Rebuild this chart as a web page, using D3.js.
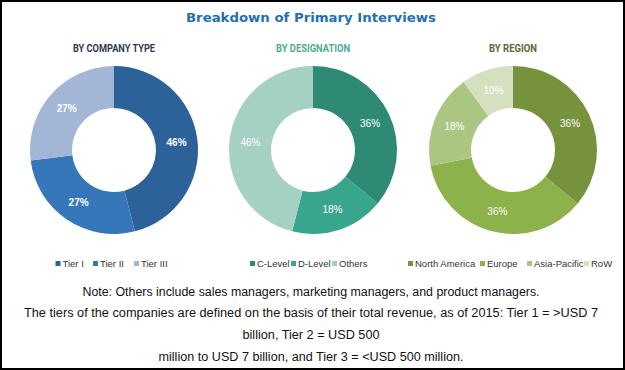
<!DOCTYPE html>
<html><head><meta charset="utf-8">
<script src="https://cdn.jsdelivr.net/npm/d3@7/dist/d3.min.js"></script>
<style>body{margin:0;background:#fff}svg{display:block}</style>
</head><body><svg id="c" width="625" height="370"></svg>
<script>
const companyLabels = ["Tier I", "Tier II", "Tier III"];
const companyValues = [46, 27, 27];
const designationLabels = ["C-Level", "D-Level", "Others"];
const designationValues = [36, 18, 46];
const regionLabels = ["North America", "Europe", "Asia-Pacific", "RoW"];
const regionValues = [36, 36, 18, 10];
const chartTitles = ["BY COMPANY TYPE", "BY DESIGNATION", "BY REGION"];
const noteLines = [
  "Note: Others include sales managers, marketing managers, and product managers.",
  "The tiers of the companies are defined on the basis of their total revenue, as of 2015: Tier 1 = >USD 7",
  "billion, Tier 2 = USD 500",
  "million to USD 7 billion, and Tier 3 = <USD 500 million."
];

const svg = d3.select("#c");
svg.append("rect").attr("x",1).attr("y",1).attr("width",623).attr("height",368)
  .attr("fill","#fff").attr("stroke","#000").attr("stroke-width",2);

svg.append("text").attr("x",311).attr("y",22).attr("text-anchor","middle")
  .attr("font-family","DejaVu Sans, Verdana, sans-serif").attr("font-weight","bold")
  .attr("font-size",13).attr("fill","#1f6fb8").attr("textLength",250).attr("lengthAdjust","spacingAndGlyphs")
  .text("Breakdown of Primary Interviews");

const charts = [
  {cx:114, labels:companyLabels, values:companyValues, title:chartTitles[0], titleColor:"#2e3b4e", titleW:82,
   colors:["#2d6199","#3677ba","#a3b6d6"], bold:true,
   legendX:[55.5,93,134]},
  {cx:313, labels:designationLabels, values:designationValues, title:chartTitles[1], titleColor:"#4aab94", titleW:74,
   colors:["#2e8a75","#38a68c","#a5d0c4"], bold:false,
   legendX:[250,291,332]},
  {cx:513, labels:regionLabels, values:regionValues, title:chartTitles[2], titleColor:"#5b6a36", titleW:48,
   colors:["#77923d","#8db24b","#abc680","#d4e0c0"], bold:false,
   legendX:[408,480,527,584]}
];

const cy = 150;
const arc = d3.arc().innerRadius(42).outerRadius(84);
const pie = d3.pie().sort(null).value(d=>d);

charts.forEach(ch=>{
  svg.append("text").attr("x",ch.cx).attr("y",52).attr("text-anchor","middle")
    .attr("font-family","Liberation Sans Narrow, Roboto, Arial, sans-serif").attr("font-weight","bold")
    .attr("font-size",11).attr("fill",ch.titleColor)
    .attr("textLength",ch.titleW).attr("lengthAdjust","spacingAndGlyphs").text(ch.title);
  const g = svg.append("g").attr("transform",`translate(${ch.cx},${cy})`);
  const arcs = pie(ch.values);
  g.selectAll("path").data(arcs).join("path").attr("d",arc).attr("fill",(d,i)=>ch.colors[i]);
  g.selectAll("text").data(arcs).join("text")
    .attr("transform",d=>`translate(${arc.centroid(d)})`)
    .attr("text-anchor","middle").attr("dy","0.35em")
    .attr("font-family","Liberation Sans, Arial, sans-serif").attr("font-size",10)
    .attr("font-weight",ch.bold?"bold":"normal").attr("fill","#fff")
    .text(d=>d.data+"%");
  const lg = svg.append("g");
  ch.labels.forEach((l,i)=>{
    lg.append("rect").attr("x",ch.legendX[i]).attr("y",261).attr("width",5).attr("height",5).attr("fill",ch.colors[i]);
    lg.append("text").attr("x",ch.legendX[i]+7).attr("y",267)
      .attr("font-family","Liberation Sans, Arial, sans-serif").attr("font-size",9.5).attr("fill","#333")
      .text(l);
  });
});

const noteY = [296, 317, 339, 361];
const noteW = [457, 574, 137, 305];
noteLines.forEach((t,i)=>{
  svg.append("text").attr("x",311).attr("y",noteY[i]).attr("text-anchor","middle")
    .attr("font-family","Liberation Sans Narrow, Liberation Sans, Arial, sans-serif").attr("font-size",12)
    .attr("fill","#111").attr("textLength",noteW[i]).attr("lengthAdjust","spacingAndGlyphs").text(t);
});
</script></body></html>
